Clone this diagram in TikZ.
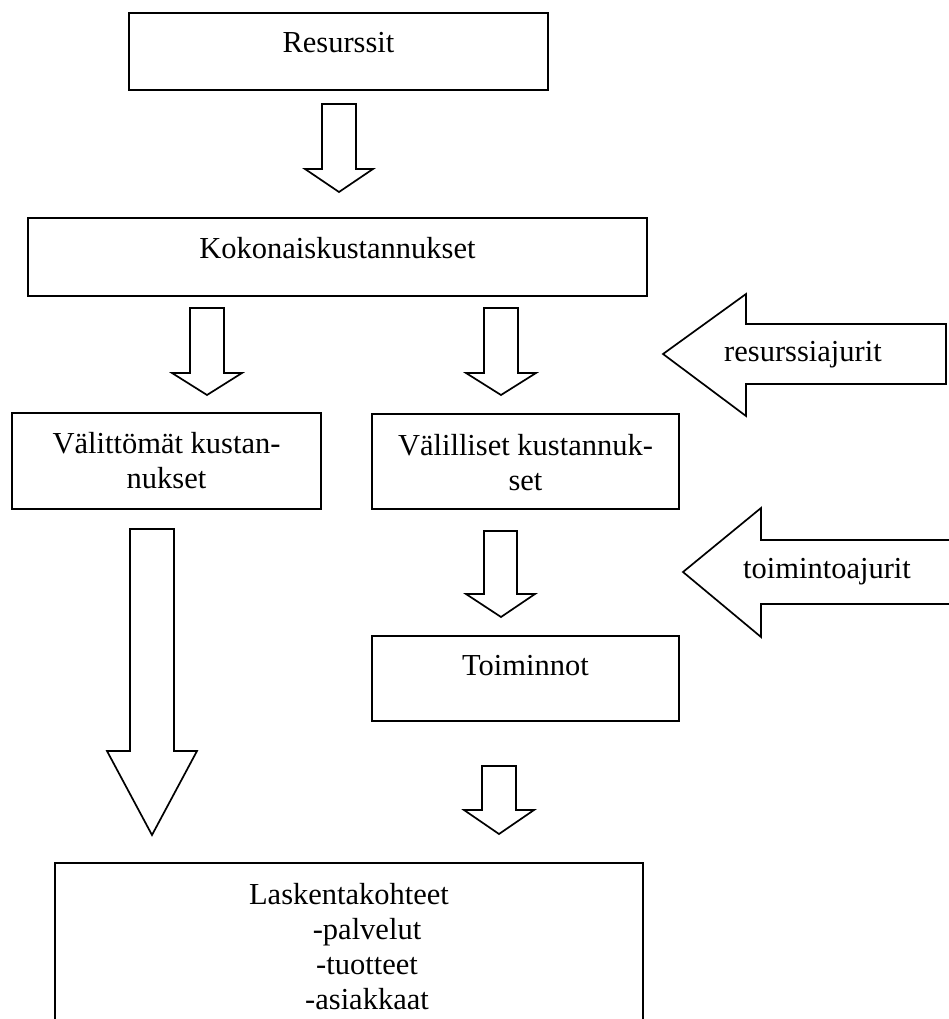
\documentclass[tikz,border=0pt]{standalone}
\usepackage{fontspec}
\setmainfont{Liberation Serif}
\begin{document}
\begin{tikzpicture}[x=1pt,y=-1pt,
  font=\fontsize{30.5}{35}\selectfont,
  box/.style={draw, line width=1.8pt, anchor=north west, align=center, inner sep=0pt, outer sep=0pt},
  blockarr/.style={draw, line width=1.7pt, line join=miter}]
\useasboundingbox (0,0) rectangle (949,1019);
\node[box, minimum width=419pt, text height=40pt, text depth=37pt] (res) at (129,13) {Resurssit};
\node[box, minimum width=619pt, text height=40pt, text depth=38pt] (kok) at (28,218) {Kokonaiskustannukset};
\node[box, minimum width=309pt, text height=75pt, text depth=21pt] (valit) at (12,413) {Välittömät kustan-\\nukset};
\node[box, minimum width=307pt, text height=76pt, text depth=19pt] (valil) at (372,414) {Välilliset kustannuk-\\set};
\node[box, minimum width=307pt, text height=39pt, text depth=46pt] (toim) at (372,636) {Toiminnot};
\node[box, minimum width=588pt, text height=146pt, text depth=100pt] (lask) at (55,863) {Laskentakohteet\\\hspace*{36pt}-palvelut\\\hspace*{36pt}-tuotteet\\\hspace*{36pt}-asiakkaat};
\draw[blockarr] (322,104) -- (356,104) -- (356,169) -- (373,169) -- (339,192) -- (305,169) -- (322,169) -- cycle;
\draw[blockarr] (190,308) -- (224,308) -- (224,373) -- (242,373) -- (207,395) -- (172,373) -- (190,373) -- cycle;
\draw[blockarr] (484,308) -- (518,308) -- (518,373) -- (536,373) -- (501,395) -- (466,373) -- (484,373) -- cycle;
\draw[blockarr] (484,531) -- (517,531) -- (517,594) -- (535,594) -- (501,617) -- (466,594) -- (484,594) -- cycle;
\draw[blockarr] (130,529) -- (174,529) -- (174,751) -- (197,751) -- (152,835) -- (107,751) -- (130,751) -- cycle;
\draw[blockarr] (482,766) -- (516,766) -- (516,810) -- (534,810) -- (499,834) -- (464,810) -- (482,810) -- cycle;
\draw[blockarr] (663,354) -- (746,294) -- (746,324) -- (946,324) -- (946,384) -- (746,384) -- (746,416) -- cycle;
\node (resaj) at (803,355) {resurssiajurit};
\draw[blockarr] (683,572) -- (761,508) -- (761,540) -- (965,540) -- (965,604) -- (761,604) -- (761,637) -- cycle;
\node (toimaj) at (827,572) {toimintoajurit};
\end{tikzpicture}
\end{document}
